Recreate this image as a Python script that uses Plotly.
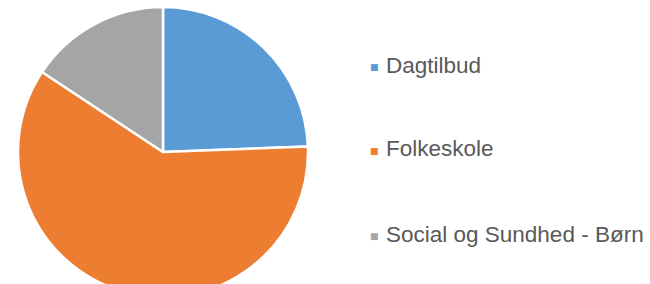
import plotly.graph_objects as go

categories = ["Dagtilbud", "Folkeskole", "Social og Sundhed - Børn"]
values = [24.4, 59.9, 15.7]
colors = ["#5B9BD5", "#ED7D31", "#A5A5A5"]

W, H = 650, 300
cx, cy, r = 163, 152, 145

fig = go.Figure(go.Pie(
    labels=categories,
    values=values,
    sort=False,
    direction="clockwise",
    rotation=0,
    textinfo="none",
    hoverinfo="label+percent",
    marker=dict(colors=colors, line=dict(color="white", width=2.5)),
    domain=dict(x=[(cx - r) / W, (cx + r) / W], y=[(H - cy - r) / H, (H - cy + r) / H]),
    showlegend=False,
))

legend_y = [67, 151, 236]
annotations = []
for cat, col, ly in zip(categories, colors, legend_y):
    annotations.append(dict(x=375 / W, y=1 - ly / H, xref="paper", yref="paper",
                            text="■", showarrow=False, xanchor="center", yanchor="middle",
                            font=dict(size=9, color=col, family="DejaVu Sans")))
    annotations.append(dict(x=384 / W, y=1 - (ly - 2) / H, xref="paper", yref="paper",
                            text=cat, showarrow=False, xanchor="left", yanchor="middle",
                            font=dict(size=22.5, color="#595959", family="Liberation Sans, Arial")))

fig.update_layout(
    width=W, height=H,
    margin=dict(l=0, r=0, t=0, b=0),
    paper_bgcolor="white",
    plot_bgcolor="white",
    annotations=annotations,
)

fig.write_html("out.html", config={"displayModeBar": False},
               post_script="document.documentElement.style.overflow='hidden';document.body.style.overflow='hidden';document.body.style.margin='0';")
